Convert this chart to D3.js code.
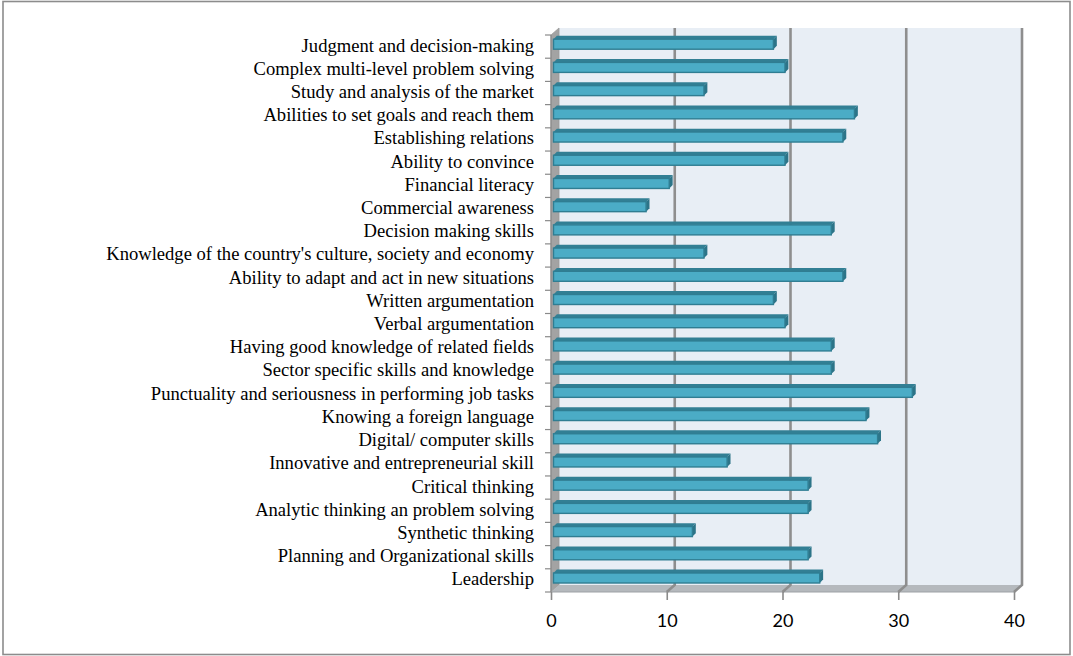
<!DOCTYPE html>
<html>
<head>
<meta charset="utf-8">
<script src="https://cdn.jsdelivr.net/npm/d3@7"></script>
<style>
  html, body { margin: 0; padding: 0; background: #ffffff; }
  svg { display: block; }
</style>
</head>
<body>
<svg id="chart" width="1073" height="656"></svg>
<script>
// Skills, listed top to bottom as they appear on the chart
const categories = [
  "Judgment and decision-making",
  "Complex multi-level problem solving",
  "Study and analysis of the market",
  "Abilities to set goals and reach them",
  "Establishing relations",
  "Ability to convince",
  "Financial literacy",
  "Commercial awareness",
  "Decision making skills",
  "Knowledge of the country's culture, society and economy",
  "Ability to adapt and act in new situations",
  "Written argumentation",
  "Verbal argumentation",
  "Having good knowledge of related fields",
  "Sector specific skills and knowledge",
  "Punctuality and seriousness in performing job tasks",
  "Knowing a foreign language",
  "Digital/ computer skills",
  "Innovative and entrepreneurial skill",
  "Critical thinking",
  "Analytic thinking an problem solving",
  "Synthetic thinking ",
  "Planning and Organizational skills",
  "Leadership"
];

const values = [19, 20, 13, 26, 25, 20, 10, 8, 24, 13, 25, 19, 20, 24, 24, 31, 27, 28, 15, 22, 22, 12, 22, 23];

const xTicks = [0, 10, 20, 30, 40];

const svg = d3.select("#chart");

// Outer frame
svg.append("rect")
  .attr("x", 3).attr("y", 1.5)
  .attr("width", 1067).attr("height", 653)
  .attr("fill", "#ffffff")
  .attr("stroke", "#8c8c8c")
  .attr("stroke-width", 1.6);

// Front plane of the 3D box and depth offset of the back wall
const front = { left: 551, right: 1014, top: 35, bottom: 592 };
const depth = { dx: 8, dy: -7 };

const x = d3.scaleLinear().domain([0, 40]).range([front.left, front.right]);
const y = d3.scaleBand().domain(categories).range([front.top, front.bottom]);

const g = svg.append("g");

// Back wall
const backX0 = x(0) + depth.dx, backX1 = x(40) + depth.dx;
const backTop = front.top + depth.dy, backBottom = front.bottom + depth.dy;
g.append("rect")
  .attr("x", backX0).attr("y", backTop)
  .attr("width", backX1 - backX0).attr("height", backBottom - backTop)
  .attr("fill", "#e8eef5");

// Left side wall
g.append("path")
  .attr("d", `M${x(0)},${front.top} L${backX0},${backTop} L${backX0},${backBottom} L${x(0)},${front.bottom} Z`)
  .attr("fill", "#a3a3a3")
  .attr("stroke", "#9a9a9a")
  .attr("stroke-width", 0.8);

// Floor
g.append("path")
  .attr("d", `M${x(0)},${front.bottom} L${backX0},${backBottom} L${backX1},${backBottom} L${x(40)},${front.bottom} Z`)
  .attr("fill", "#b5b9bd");
g.append("line")
  .attr("x1", x(0)).attr("x2", x(40))
  .attr("y1", front.bottom).attr("y2", front.bottom)
  .attr("stroke", "#9ea2a6").attr("stroke-width", 1.2);

// Gridlines on the back wall, continued across the floor
const grid = g.append("g");
xTicks.filter(v => v > 0).forEach(v => {
  const bx = x(v) + depth.dx;
  grid.append("path")
    .attr("d", `M${bx},${backTop} L${bx},${backBottom} L${x(v)},${front.bottom}`)
    .attr("fill", "none")
    .attr("stroke", "#8e8e8e")
    .attr("stroke-width", 2.6);
});

// Bars (front face, top face, end cap) at mid depth
const barOff = { dx: 2.5, dy: -2.4 };
const barDepth = 3.4;
const barH = 10;
const frontC = "#4bacc6", topC = "#327f94", sideC = "#2c7488", edgeC = "#2f7d92";

const bars = g.append("g").selectAll("g.bar")
  .data(categories.map((c, i) => ({ c, v: values[i] })))
  .join("g").attr("class", "bar");

bars.each(function(d) {
  const gb = d3.select(this);
  const x0 = x(0) + barOff.dx;
  const x1 = x(d.v) + barOff.dx;
  const yc = y(d.c) + y.bandwidth() / 2 + barOff.dy;
  const y0 = yc - barH / 2, y1 = yc + barH / 2;
  // top face
  gb.append("path")
    .attr("d", `M${x0},${y0} L${x0 + barDepth},${y0 - barDepth} L${x1 + barDepth},${y0 - barDepth} L${x1},${y0} Z`)
    .attr("fill", topC);
  // end cap
  gb.append("path")
    .attr("d", `M${x1},${y0} L${x1 + barDepth},${y0 - barDepth} L${x1 + barDepth},${y1 - barDepth} L${x1},${y1} Z`)
    .attr("fill", sideC);
  // front face
  gb.append("rect")
    .attr("x", x0).attr("y", y0)
    .attr("width", x1 - x0).attr("height", barH)
    .attr("fill", frontC)
    .attr("stroke", edgeC).attr("stroke-width", 1.4);
});

// Category boundary ticks on the left axis
const bounds = categories.map(c => y(c)).concat([front.bottom]);
g.append("g").selectAll("line")
  .data(bounds)
  .join("line")
  .attr("x1", front.left - 6).attr("x2", front.left)
  .attr("y1", d => d).attr("y2", d => d)
  .attr("stroke", "#8a8a8a").attr("stroke-width", 1.2);
g.append("line")
  .attr("x1", front.left).attr("x2", front.left)
  .attr("y1", front.top).attr("y2", front.bottom)
  .attr("stroke", "#8a8a8a").attr("stroke-width", 1.2);

// Category labels
const yAxis = d3.axisLeft(y).tickSize(0).tickPadding(17);
const yG = svg.append("g").attr("transform", `translate(${front.left},-1)`).call(yAxis);
yG.select(".domain").remove();
yG.selectAll("text")
  .attr("font-family", "'Liberation Serif', 'Times New Roman', serif")
  .attr("font-size", "18.6px")
  .attr("fill", "#000000");

// Value axis
const xAxis = d3.axisBottom(x).tickValues(xTicks).tickSize(8).tickPadding(14).tickFormat(d3.format("d"));
const xG = svg.append("g").attr("transform", `translate(0,${front.bottom})`).call(xAxis);
xG.select(".domain").remove();
xG.selectAll(".tick line").attr("stroke", "#8a8a8a").attr("stroke-width", 1.6);
xG.selectAll("text")
  .attr("font-family", "Lato, 'Open Sans', sans-serif")
  .attr("font-size", "18px")
  .attr("fill", "#000000");
</script>
</body>
</html>
